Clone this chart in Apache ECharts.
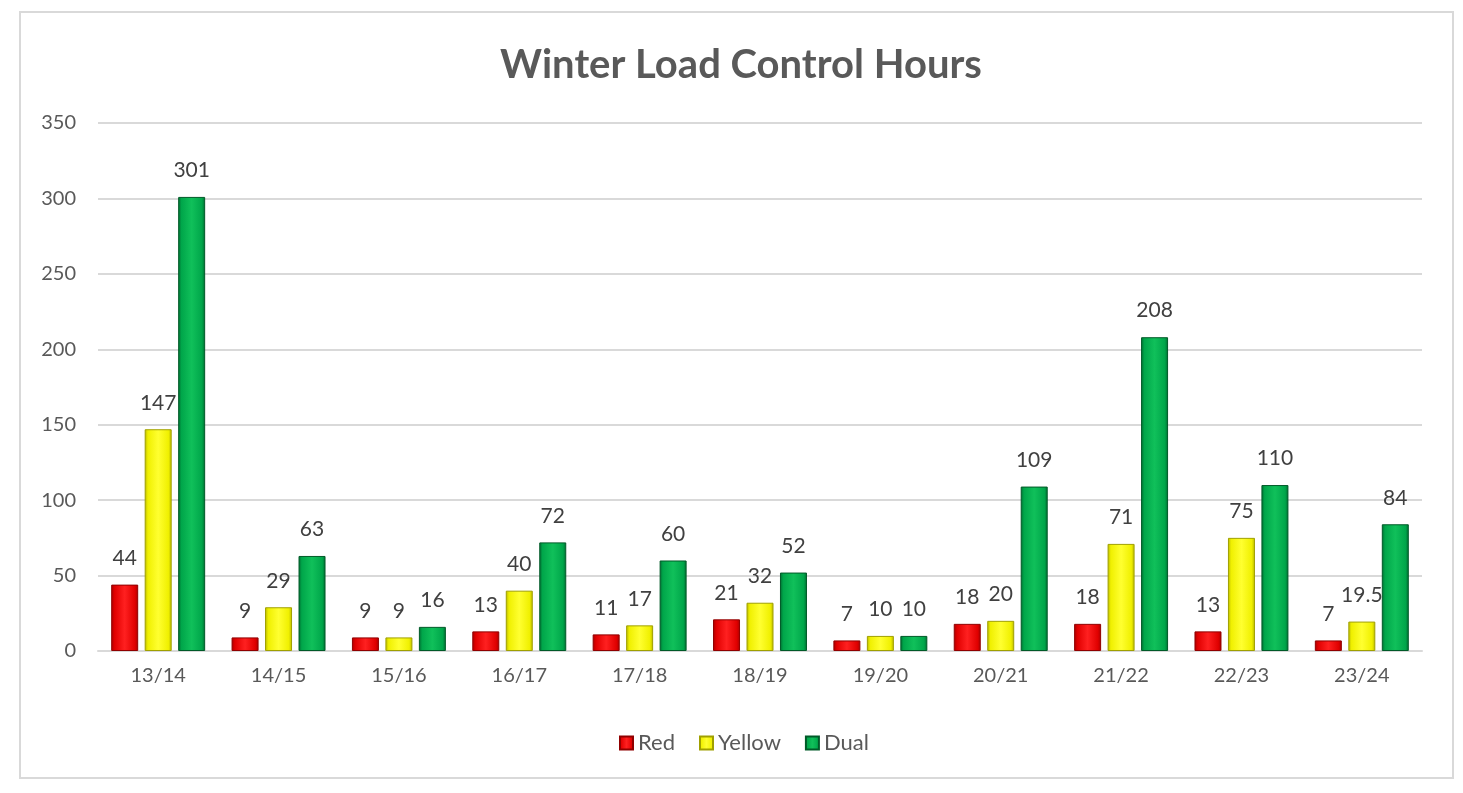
<!DOCTYPE html>
<html>
<head>
<meta charset="utf-8">
<script src="https://cdn.jsdelivr.net/npm/echarts@6/dist/echarts.min.js"></script>
<style>
html,body{margin:0;padding:0;background:#fff;}
#chart{width:1463px;height:793px;}
</style>
</head>
<body>
<div id="chart"></div>
<script>
var categories = ['13/14','14/15','15/16','16/17','17/18','18/19','19/20','20/21','21/22','22/23','23/24'];
var redValues = [44, 9, 9, 13, 11, 21, 7, 18, 18, 13, 7];
var yellowValues = [147, 29, 9, 40, 17, 32, 10, 20, 71, 75, 19.5];
var dualValues = [301, 63, 16, 72, 60, 52, 10, 109, 208, 110, 84];
var yTicks = [0, 50, 100, 150, 200, 250, 300, 350];

var FONT = 'Lato, "Open Sans", sans-serif';

function bevel(edge, mid, light) {
  return new echarts.graphic.LinearGradient(0, 0, 1, 0, [
    {offset: 0, color: edge},
    {offset: 0.12, color: mid},
    {offset: 0.5, color: light},
    {offset: 0.88, color: mid},
    {offset: 1, color: edge}
  ]);
}

var labelStyle = {
  show: true,
  position: 'top',
  distance: 16,
  color: '#404040',
  fontSize: 21,
  fontFamily: FONT
};

function series(name, data, edge, mid, light, border) {
  return {
    name: name,
    type: 'bar',
    data: data,
    barWidth: 27,
    barGap: '24%',
    itemStyle: {
      color: bevel(edge, mid, light),
      borderColor: border,
      borderWidth: 1
    },
    label: labelStyle
  };
}

var chart = echarts.init(document.getElementById('chart'));
chart.setOption({
  animation: false,
  backgroundColor: '#ffffff',
  graphic: [{
    type: 'rect',
    shape: {x: 20, y: 12, width: 1433, height: 766},
    style: {fill: 'none', stroke: '#d9d9d9', lineWidth: 2},
    z: -10
  }],
  title: {
    text: 'Winter Load Control Hours',
    left: 736,
    textAlign: 'center',
    top: 40,
    textStyle: {
      color: '#595959',
      fontSize: 40,
      fontWeight: 'bold',
      fontFamily: FONT
    }
  },
  legend: {
    data: ['Red', 'Yellow', 'Dual'],
    left: 614,
    top: 727,
    itemWidth: 13,
    itemHeight: 13,
    itemGap: 24,
    icon: 'rect',
    textStyle: {color: '#595959', fontSize: 22, fontFamily: FONT}
  },
  grid: {left: 98, right: 41, top: 123, bottom: 142, containLabel: false},
  xAxis: {
    type: 'category',
    data: categories,
    axisLine: {lineStyle: {color: '#d9d9d9', width: 2}},
    axisTick: {show: false},
    axisLabel: {color: '#595959', fontSize: 20, fontFamily: FONT, margin: 15}
  },
  yAxis: {
    type: 'value',
    min: 0,
    max: 350,
    interval: 50,
    axisLine: {show: false},
    axisTick: {show: false},
    splitLine: {lineStyle: {color: '#d9d9d9', width: 2}},
    axisLabel: {
      color: '#595959', fontSize: 20, fontFamily: FONT, margin: 22,
      formatter: function (v) { return yTicks.indexOf(v) >= 0 ? String(v) : ''; }
    }
  },
  series: [
    series('Red', redValues, '#a80000', '#e00000', '#ff2020', '#900000'),
    series('Yellow', yellowValues, '#b8b800', '#f0f000', '#ffff30', '#a0a000'),
    series('Dual', dualValues, '#006b30', '#00a64a', '#10c05a', '#005a28')
  ]
});
</script>
</body>
</html>
